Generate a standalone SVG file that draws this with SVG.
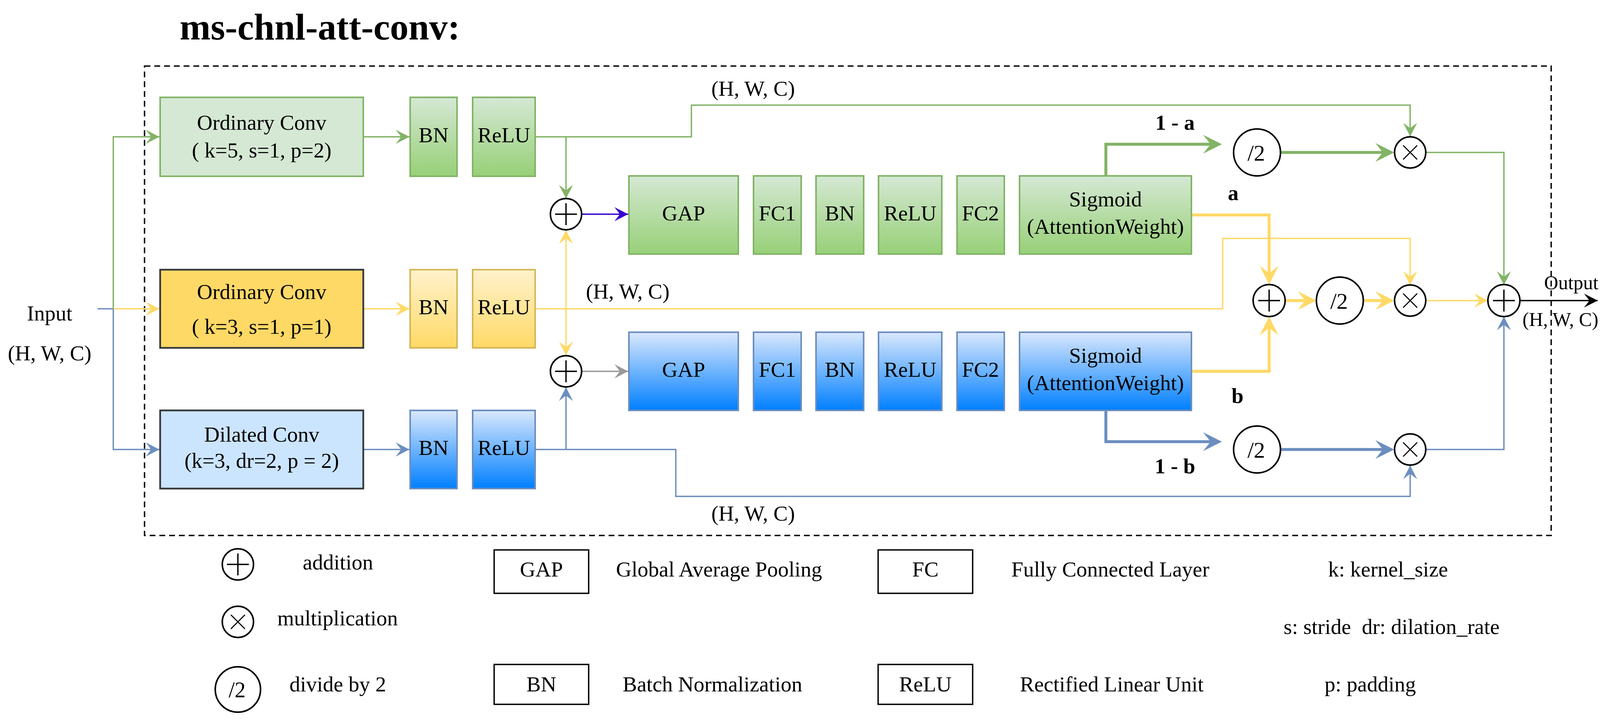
<svg xmlns="http://www.w3.org/2000/svg" width="4340" height="1860" viewBox="0 0 4340 1860">
<style>
text{font-family:"Liberation Serif","Times New Roman",serif;font-size:55px;fill:#000}
.c{text-anchor:middle}
.r{text-anchor:end;font-size:50px}
.b{font-weight:bold}
.title{font-size:95px;font-weight:bold}
.gbox{fill:url(#gG);stroke:#82b366;stroke-width:4}
.ybox{fill:url(#gY);stroke:#d6b656;stroke-width:4}
.bbox{fill:url(#gB);stroke:#6c8ebf;stroke-width:4}
.lbox{fill:#fff;stroke:#000;stroke-width:3.5}
.op{fill:#fff;stroke:#000;stroke-width:4}
.sym{stroke:#000;stroke-width:3.5;fill:none}
.x{stroke:#000;stroke-width:2.8;fill:none}
.e{fill:none;stroke-width:3.5}
.t{fill:none;stroke-width:7.5}
.G{stroke:#82b366}.Y{stroke:#ffd966}.B{stroke:#6c8ebf}.P{stroke:#3700cc}.K{stroke:#000}.R{stroke:#999999}
</style>
<defs>
<linearGradient id="gG" x1="0" y1="0" x2="0" y2="1"><stop offset="0" stop-color="#d5e8d4"/><stop offset="1" stop-color="#97d077"/></linearGradient>
<linearGradient id="gY" x1="0" y1="0" x2="0" y2="1"><stop offset="0" stop-color="#fff2cc"/><stop offset="1" stop-color="#ffd966"/></linearGradient>
<linearGradient id="gB" x1="0" y1="0" x2="0" y2="1"><stop offset="0" stop-color="#dae8fc"/><stop offset="1" stop-color="#007fff"/></linearGradient>
<marker id="aG" viewBox="0 0 35 36" markerUnits="userSpaceOnUse" markerWidth="35" markerHeight="36" refX="35" refY="18" orient="auto"><path d="M0,0 L35,18 L0,36 L14,18 Z" fill="#82b366"/></marker>
<marker id="aY" viewBox="0 0 35 36" markerUnits="userSpaceOnUse" markerWidth="35" markerHeight="36" refX="35" refY="18" orient="auto"><path d="M0,0 L35,18 L0,36 L14,18 Z" fill="#ffd966"/></marker>
<marker id="aB" viewBox="0 0 35 36" markerUnits="userSpaceOnUse" markerWidth="35" markerHeight="36" refX="35" refY="18" orient="auto"><path d="M0,0 L35,18 L0,36 L14,18 Z" fill="#6c8ebf"/></marker>
<marker id="aP" viewBox="0 0 35 36" markerUnits="userSpaceOnUse" markerWidth="35" markerHeight="36" refX="35" refY="18" orient="auto"><path d="M0,0 L35,18 L0,36 L14,18 Z" fill="#3700cc"/></marker>
<marker id="aR" viewBox="0 0 35 36" markerUnits="userSpaceOnUse" markerWidth="35" markerHeight="36" refX="35" refY="18" orient="auto"><path d="M0,0 L35,18 L0,36 L14,18 Z" fill="#999999"/></marker>
<marker id="aK" viewBox="0 0 35 36" markerUnits="userSpaceOnUse" markerWidth="35" markerHeight="36" refX="35" refY="18" orient="auto"><path d="M0,0 L35,18 L0,36 L14,18 Z" fill="#000"/></marker>
<marker id="tG" viewBox="0 0 48 48" markerUnits="userSpaceOnUse" markerWidth="48" markerHeight="48" refX="32" refY="24" orient="auto"><path d="M0,0 L48,24 L0,48 L19,24 Z" fill="#82b366"/></marker>
<marker id="tY" viewBox="0 0 48 48" markerUnits="userSpaceOnUse" markerWidth="48" markerHeight="48" refX="32" refY="24" orient="auto"><path d="M0,0 L48,24 L0,48 L19,24 Z" fill="#ffd966"/></marker>
<marker id="tB" viewBox="0 0 48 48" markerUnits="userSpaceOnUse" markerWidth="48" markerHeight="48" refX="32" refY="24" orient="auto"><path d="M0,0 L48,24 L0,48 L19,24 Z" fill="#6c8ebf"/></marker>
</defs>
<rect width="4340" height="1860" fill="#fff"/>
<text class="title" x="460" y="101">ms-chnl-att-conv:</text>
<rect id="frame" x="370" y="169" width="3601" height="1201" fill="none" stroke="#000" stroke-width="3.5" stroke-dasharray="15 10"/>

<g id="connectors">
<path class="e B" d="M250,790 H290"/>
<path class="e G" d="M290,790 V350 H408" marker-end="url(#aG)"/>
<path class="e Y" d="M290,790 H408" marker-end="url(#aY)"/>
<path class="e B" d="M290,790 V1150 H408" marker-end="url(#aB)"/>
<path class="e G" d="M930,350 H1048" marker-end="url(#aG)"/>
<path class="e Y" d="M930,790 H1048" marker-end="url(#aY)"/>
<path class="e B" d="M930,1150 H1048" marker-end="url(#aB)"/>
<path class="e G" d="M1370,350 H1770 V269 H3610 V349" marker-end="url(#aG)"/>
<path class="e G" d="M1449,350 V508" marker-end="url(#aG)"/>
<path class="e Y" d="M1370,790 H3130 V610 H3610 V729" marker-end="url(#aY)"/>
<path class="e Y" d="M1449,790 V589" marker-end="url(#aY)"/>
<path class="e Y" d="M1449,790 V909" marker-end="url(#aY)"/>
<path class="e B" d="M1370,1150 H1730 V1270 H3610 V1191" marker-end="url(#aB)"/>
<path class="e B" d="M1449,1150 V991" marker-end="url(#aB)"/>
<path class="e P" d="M1489,548 H1608" marker-end="url(#aP)"/>
<path class="e R" d="M1489,950 H1608" marker-end="url(#aR)"/>
<path class="e G" d="M3650,390 H3850 V729" marker-end="url(#aG)"/>
<path class="e B" d="M3650,1150 H3850 V810" marker-end="url(#aB)"/>
<path class="e Y" d="M3650,769 H3809" marker-end="url(#aY)"/>
<path class="e K" d="M3891,769 H4090" marker-end="url(#aK)"/>
<path class="t G" d="M2831,450 V369 H3112" marker-end="url(#tG)"/>
<path class="t G" d="M3279,390 H3553" marker-end="url(#tG)"/>
<path class="t Y" d="M3050,550 H3249 V712" marker-end="url(#tY)"/>
<path class="t Y" d="M3050,950 H3249 V826" marker-end="url(#tY)"/>
<path class="t Y" d="M3291,769 H3354" marker-end="url(#tY)"/>
<path class="t Y" d="M3490,769 H3553" marker-end="url(#tY)"/>
<path class="t B" d="M2831,1051 V1130 H3112" marker-end="url(#tB)"/>
<path class="t B" d="M3279,1150 H3553" marker-end="url(#tB)"/>
</g>

<g id="labels">
<text class="c" x="127" y="820">Input</text>
<text class="c" x="127" y="922">(H, W, C)</text>
<text class="r" x="4092" y="740">Output</text>
<text class="r" x="4092" y="834">(H, W, C)</text>
<text class="c" x="1928" y="245">(H, W, C)</text>
<text class="c" x="1607" y="764">(H, W, C)</text>
<text class="c" x="1928" y="1332">(H, W, C)</text>
<text class="c b" x="3008" y="332">1 - a</text>
<text class="c b" x="3157" y="512">a</text>
<text class="c b" x="3168" y="1031">b</text>
<text class="c b" x="3008" y="1211">1 - b</text>
</g>

<g id="conv-green"><rect x="410" y="249" width="520" height="202" fill="#d5e8d4" stroke="#82b366" stroke-width="4"/><text class="c" x="670" y="332">Ordinary Conv</text><text class="c" x="670" y="403">( k=5, s=1, p=2)</text></g>
<g id="bn-green"><rect class="gbox" x="1050" y="249" width="120" height="202"/><text class="c" x="1110" y="364">BN</text></g>
<g id="relu-green"><rect class="gbox" x="1210" y="249" width="160" height="202"/><text class="c" x="1290" y="364">ReLU</text></g>

<g id="conv-yellow"><rect x="410" y="690" width="520" height="200" fill="#ffd966" stroke="#36393d" stroke-width="4.5"/><text class="c" x="670" y="765">Ordinary Conv</text><text class="c" x="670" y="854">( k=3, s=1, p=1)</text></g>
<g id="bn-yellow"><rect class="ybox" x="1050" y="690" width="120" height="200"/><text class="c" x="1110" y="804">BN</text></g>
<g id="relu-yellow"><rect class="ybox" x="1210" y="690" width="160" height="200"/><text class="c" x="1290" y="804">ReLU</text></g>

<g id="conv-blue"><rect x="410" y="1050" width="520" height="200" fill="#cce5ff" stroke="#36393d" stroke-width="4.5"/><text class="c" x="670" y="1130">Dilated Conv</text><text class="c" x="670" y="1197">(k=3, dr=2, p = 2)</text></g>
<g id="bn-blue"><rect class="bbox" x="1050" y="1050" width="120" height="200"/><text class="c" x="1110" y="1164">BN</text></g>
<g id="relu-blue"><rect class="bbox" x="1210" y="1050" width="160" height="200"/><text class="c" x="1290" y="1164">ReLU</text></g>

<g id="att-green">
<g id="gap-g"><rect class="gbox" x="1610" y="450" width="280" height="200"/><text class="c" x="1750" y="564">GAP</text></g>
<g id="fc1-g"><rect class="gbox" x="1929" y="450" width="122" height="200"/><text class="c" x="1990" y="564">FC1</text></g>
<g id="bn2-g"><rect class="gbox" x="2089" y="450" width="122" height="200"/><text class="c" x="2150" y="564">BN</text></g>
<g id="relu2-g"><rect class="gbox" x="2249" y="450" width="162" height="200"/><text class="c" x="2330" y="564">ReLU</text></g>
<g id="fc2-g"><rect class="gbox" x="2450" y="450" width="121" height="200"/><text class="c" x="2510" y="564">FC2</text></g>
<g id="sig-g"><rect class="gbox" x="2610" y="450" width="440" height="200"/><text class="c" x="2830" y="528">Sigmoid</text><text class="c" x="2830" y="598">(AttentionWeight)</text></g>
</g>
<g id="att-blue">
<g id="gap-b"><rect class="bbox" x="1610" y="850" width="280" height="200"/><text class="c" x="1750" y="964">GAP</text></g>
<g id="fc1-b"><rect class="bbox" x="1929" y="850" width="122" height="200"/><text class="c" x="1990" y="964">FC1</text></g>
<g id="bn2-b"><rect class="bbox" x="2089" y="850" width="122" height="200"/><text class="c" x="2150" y="964">BN</text></g>
<g id="relu2-b"><rect class="bbox" x="2249" y="850" width="162" height="200"/><text class="c" x="2330" y="964">ReLU</text></g>
<g id="fc2-b"><rect class="bbox" x="2450" y="850" width="121" height="200"/><text class="c" x="2510" y="964">FC2</text></g>
<g id="sig-b"><rect class="bbox" x="2610" y="850" width="440" height="200"/><text class="c" x="2830" y="928">Sigmoid</text><text class="c" x="2830" y="998">(AttentionWeight)</text></g>
</g>

<g id="add-top"><circle class="op" cx="1449" cy="548" r="40"/><path class="sym" d="M1421,548 H1477 M1449,520 V576"/></g>
<g id="add-bot"><circle class="op" cx="1449" cy="950" r="40"/><path class="sym" d="M1421,950 H1477 M1449,922 V978"/></g>
<g id="div-a"><circle class="op" cx="3218" cy="390" r="60"/><text class="c" x="3216" y="411" style="font-size:58px">/2</text></g>
<g id="mul-a"><circle class="op" cx="3610" cy="390" r="40"/><path class="x" d="M3592,372 L3628,408 M3628,372 L3592,408"/></g>
<g id="add-mid"><circle class="op" cx="3249" cy="769" r="41"/><path class="sym" d="M3221,769 H3277 M3249,741 V797"/></g>
<g id="div-mid"><circle class="op" cx="3430" cy="769" r="60"/><text class="c" x="3428" y="790" style="font-size:58px">/2</text></g>
<g id="mul-mid"><circle class="op" cx="3610" cy="769" r="40"/><path class="x" d="M3592,751 L3628,787 M3628,751 L3592,787"/></g>
<g id="add-out"><circle class="op" cx="3850" cy="769" r="41"/><path class="sym" d="M3822,769 H3878 M3850,741 V797"/></g>
<g id="div-b"><circle class="op" cx="3218" cy="1150" r="60"/><text class="c" x="3216" y="1171" style="font-size:58px">/2</text></g>
<g id="mul-b"><circle class="op" cx="3610" cy="1150" r="40"/><path class="x" d="M3592,1132 L3628,1168 M3628,1132 L3592,1168"/></g>

<g id="legend">
<g id="lg-add"><circle class="op" cx="609" cy="1444" r="40"/><path class="sym" d="M581,1444 H637 M609,1416 V1472"/><text x="775" y="1457">addition</text></g>
<g id="lg-mul"><circle class="op" cx="609" cy="1591" r="40"/><path class="x" d="M591,1573 L627,1609 M627,1573 L591,1609"/><text x="710" y="1600">multiplication</text></g>
<g id="lg-div"><circle class="op" cx="609" cy="1764" r="58"/><text class="c" x="607" y="1784" style="font-size:56px">/2</text><text x="741" y="1769">divide by 2</text></g>
<g id="lg-gap"><rect class="lbox" x="1265" y="1407" width="242" height="111"/><text class="c" x="1386" y="1475">GAP</text><text x="1577" y="1475">Global Average Pooling</text></g>
<g id="lg-bn"><rect class="lbox" x="1265" y="1700" width="242" height="102"/><text class="c" x="1386" y="1769">BN</text><text x="1594" y="1769">Batch Normalization</text></g>
<g id="lg-fc"><rect class="lbox" x="2248" y="1407" width="242" height="111"/><text class="c" x="2369" y="1475">FC</text><text x="2589" y="1475">Fully Connected Layer</text></g>
<g id="lg-relu"><rect class="lbox" x="2248" y="1700" width="242" height="102"/><text class="c" x="2369" y="1769">ReLU</text><text x="2611" y="1769">Rectified Linear Unit</text></g>
<text x="3400" y="1475">k: kernel_size</text>
<text x="3286" y="1622" style="white-space:pre">s: stride  dr: dilation_rate</text>
<text x="3391" y="1769">p: padding</text>
</g>
</svg>
